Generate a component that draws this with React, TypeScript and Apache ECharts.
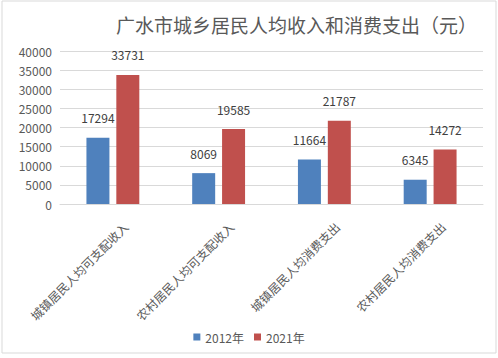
import React, { useEffect, useRef } from "react";
import * as echarts from "echarts";

const categories = ["城镇居民人均可支配收入", "农村居民人均可支配收入", "城镇居民人均消费支出", "农村居民人均消费支出"];
const series2012 = [17294, 8069, 11664, 6345];
const series2021 = [33731, 19585, 21787, 14272];
const seriesNames = ["2012年", "2021年"];
const titleText = "广水市城乡居民人均收入和消费支出（元）";

const FONT = "'Noto Sans CJK SC', 'Noto Sans', sans-serif";

export default function App() {
  const ref = useRef<HTMLDivElement>(null);
  useEffect(() => {
    if (!ref.current) return;
    const chart = echarts.init(ref.current, undefined, { renderer: "svg" });
    chart.setOption({
      animation: false,
      backgroundColor: "#ffffff",
      textStyle: { fontFamily: FONT },
      title: {
        text: titleText,
        left: 111,
        top: 10,
        textStyle: { fontSize: 19, fontWeight: "normal", color: "#595959", fontFamily: FONT },
      },
      legend: {
        data: seriesNames,
        bottom: 10,
        left: "center",
        itemWidth: 7,
        itemHeight: 7,
        itemGap: 10,
        icon: "rect",
        textStyle: { fontSize: 12, color: "#595959", fontFamily: FONT },
      },
      grid: { left: 60, right: 15, top: 51, bottom: 154, containLabel: false },
      xAxis: {
        type: "category",
        data: categories,
        axisLine: { lineStyle: { color: "#d9d9d9" } },
        axisTick: { show: false },
        axisLabel: {
          rotate: 45,
          interval: 0,
          fontSize: 12,
          color: "#595959",
          margin: 33,
          padding: [0, -18, 0, 0],
          fontFamily: FONT,
        },
      },
      yAxis: {
        type: "value",
        min: 0,
        max: 40000,
        interval: 5000,
        axisLine: { show: false },
        axisTick: { show: false },
        splitLine: { lineStyle: { color: "#d9d9d9" } },
        axisLabel: {
          fontSize: 12,
          color: "#595959",
          margin: 8,
          fontFamily: FONT,
          formatter: (v: number) => String(v),
        },
      },
      series: [
        {
          name: seriesNames[0],
          type: "bar",
          data: series2012,
          barGap: "30%",
          barCategoryGap: "50%",
          itemStyle: { color: "#4F81BD" },
          label: { show: true, position: "top", distance: 14, fontSize: 12, color: "#404040", fontFamily: FONT },
        },
        {
          name: seriesNames[1],
          type: "bar",
          data: series2021,
          itemStyle: { color: "#C0504D" },
          label: { show: true, position: "top", distance: 14, fontSize: 12, color: "#404040", fontFamily: FONT },
        },
      ],
      graphic: [
        {
          type: "rect",
          shape: { x: 2, y: 1, width: 494, height: 352 },
          style: { fill: "none", stroke: "#d9d9d9", lineWidth: 1 },
          silent: true,
          z: 100,
        },
      ],
    });
    return () => chart.dispose();
  }, []);
  return <div ref={ref} style={{ position: "fixed", left: 0, top: 0, width: 498, height: 358 }} />;
}
